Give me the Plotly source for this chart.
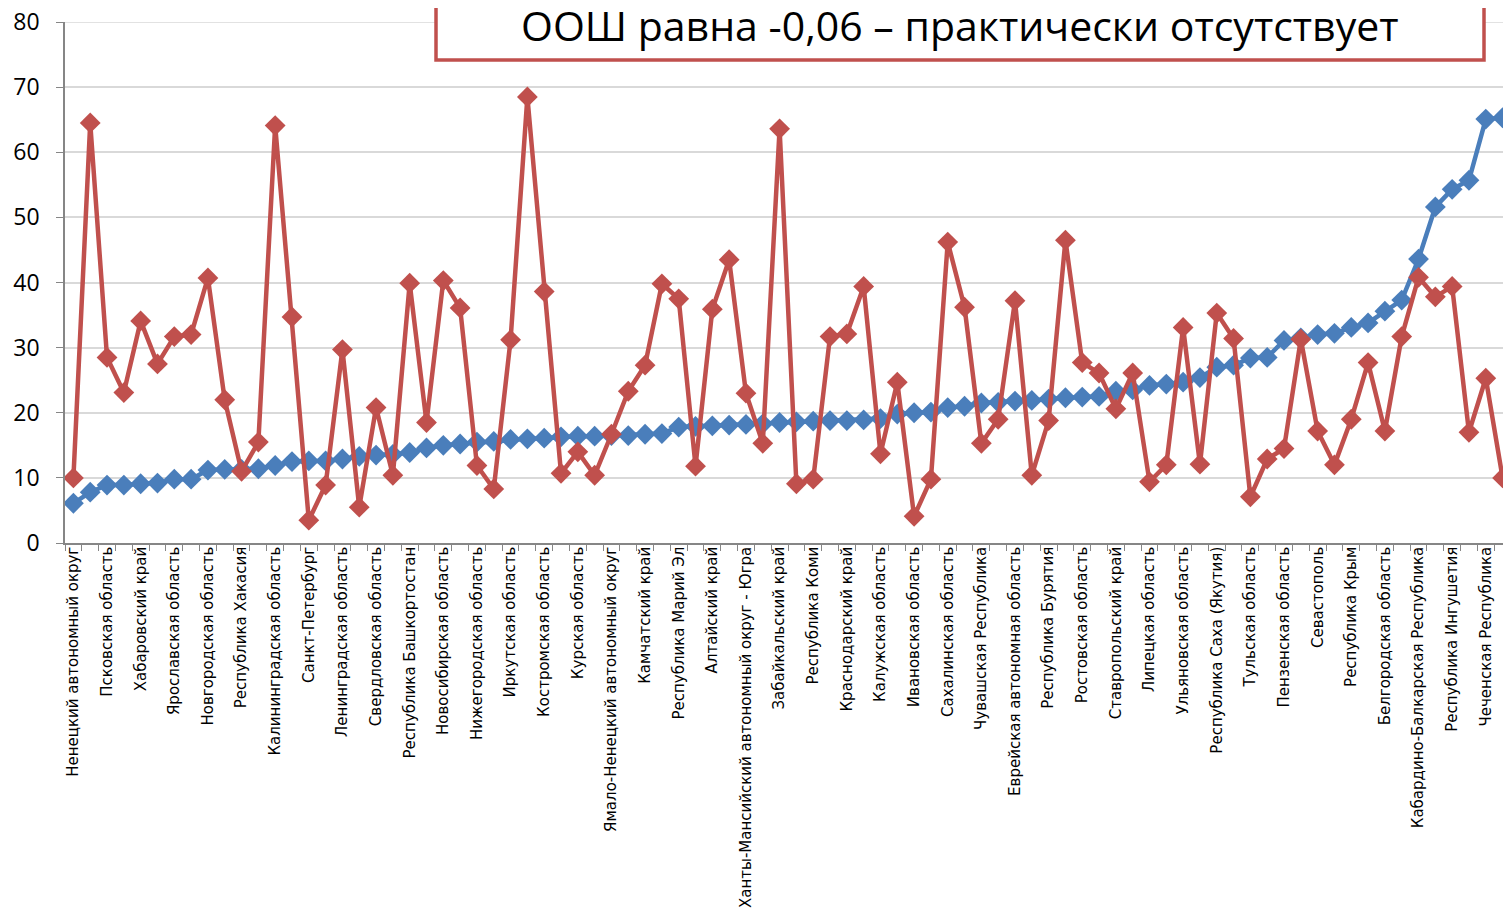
import plotly.graph_objects as go

regions = [
    "Ненецкий автономный округ", "Псковская область", "Хабаровский край",
    "Ярославская область", "Новгородская область", "Республика Хакасия",
    "Калининградская область", "Санкт-Петербург", "Ленинградская область",
    "Свердловская область", "Республика Башкортостан", "Новосибирская область",
    "Нижегородская область", "Иркутская область", "Костромская область",
    "Курская область", "Ямало-Ненецкий автономный округ", "Камчатский край",
    "Республика Марий Эл", "Алтайский край",
    "Ханты-Мансийский автономный округ - Югра", "Забайкальский край",
    "Республика Коми", "Краснодарский край", "Калужская область",
    "Ивановская область", "Сахалинская область", "Чувашская Республика",
    "Еврейская автономная область", "Республика Бурятия", "Ростовская область",
    "Ставропольский край", "Липецкая область", "Ульяновская область",
    "Республика Саха (Якутия)", "Тульская область", "Пензенская область",
    "Севастополь", "Республика Крым", "Белгородская область",
    "Кабардино-Балкарская Республика", "Республика Ингушетия",
    "Чеченская Республика",
]

blue = [6.1, 7.8, 8.9, 8.9, 9.1, 9.2, 9.8, 9.8, 11.2, 11.3, 11.3, 11.4, 11.9,
        12.5, 12.6, 12.6, 12.9, 13.3, 13.5, 13.6, 13.9, 14.6, 15.0, 15.2, 15.5,
        15.6, 15.9, 16.0, 16.1, 16.3, 16.4, 16.4, 16.5, 16.5, 16.7, 16.8, 17.8,
        17.9, 18.0, 18.1, 18.2, 18.3, 18.5, 18.6, 18.7, 18.8, 18.8, 18.9, 19.1,
        19.8, 20.0, 20.1, 20.8, 21.0, 21.5, 21.6, 21.8, 21.9, 22.1, 22.3, 22.4,
        22.5, 23.3, 23.5, 24.2, 24.4, 24.7, 25.4, 27.0, 27.3, 28.4, 28.5, 31.1,
        31.5, 32.0, 32.2, 33.1, 33.8, 35.6, 37.3, 43.6, 51.6, 54.3, 55.7, 65.1,
        65.3]

red = [10.0, 64.5, 28.5, 23.1, 34.1, 27.5, 31.7, 32.0, 40.7, 22.0, 11.0, 15.5,
       64.1, 34.7, 3.5, 8.9, 29.7, 5.5, 20.8, 10.4, 39.9, 18.5, 40.3, 36.1,
       11.9, 8.3, 31.2, 68.5, 38.6, 10.7, 14.0, 10.4, 16.7, 23.3, 27.3, 39.8,
       37.5, 11.8, 35.9, 43.5, 23.0, 15.3, 63.6, 9.1, 9.8, 31.7, 32.1, 39.4,
       13.7, 24.7, 4.1, 9.8, 46.2, 36.2, 15.3, 19.0, 37.2, 10.4, 18.8, 46.5,
       27.7, 26.1, 20.6, 26.1, 9.4, 12.0, 33.1, 12.1, 35.3, 31.4, 7.1, 12.9,
       14.5, 31.3, 17.2, 12.0, 19.0, 27.7, 17.2, 31.7, 40.8, 37.8, 39.4, 17.0,
       25.3, 10.0]

y_ticks = [0, 10, 20, 30, 40, 50, 60, 70, 80]

title_text = "ООШ равна -0,06 – практически отсутствует"

x = list(range(len(blue)))
tickvals = [2 * i for i in range(len(regions))]

BLUE = "#4a7ebb"
RED = "#c0504d"
GRID = "#d9d9d9"
AXIS = "#868686"

# page body has an 8px margin; figure is placed at (8, 8)
W, H = 1503, 909
ML, MT, MB, MR = 57, 14, 374, 0
PW = W - ML - MR
PH = H - MT - MB

def px(xpage):
    return (xpage - 8 - ML) / PW

def py(ypage):
    return (H - MB - (ypage - 8)) / PH

fig = go.Figure()
fig.add_trace(go.Scatter(
    x=x, y=blue, mode="lines+markers",
    line=dict(color=BLUE, width=4.5),
    marker=dict(symbol="diamond", size=16, color=BLUE),
    showlegend=False, cliponaxis=False,
))
fig.add_trace(go.Scatter(
    x=x, y=red, mode="lines+markers",
    line=dict(color=RED, width=4.5),
    marker=dict(symbol="diamond", size=16, color=RED),
    showlegend=False, cliponaxis=False,
))

fig.update_layout(
    width=W, height=H,
    margin=dict(l=ML, r=MR, t=MT, b=MB, pad=0, autoexpand=False),
    paper_bgcolor="white", plot_bgcolor="white",
    xaxis=dict(
        range=[-0.5, len(blue) - 0.5], automargin=False,
        tickmode="array", tickvals=tickvals, ticktext=regions,
        tickangle=-90, ticks="", showgrid=False,
        ticklabelstandoff=-4, ticklabeloverflow="allow",
        tickfont=dict(family="DejaVu Sans", size=15, color="black"),
        showline=True, linecolor=AXIS, linewidth=1.5,
        minor=dict(tickmode="array", tickvals=[i + 0.5 for i in range(-1, len(blue))],
                   ticks="outside", ticklen=6, tickcolor=AXIS, tickwidth=1.2,
                   showgrid=False),
        zeroline=False,
    ),
    yaxis=dict(
        range=[0, 80], automargin=False,
        tickmode="array", tickvals=y_ticks,
        ticks="outside", ticklen=7, tickcolor=AXIS, tickwidth=1.2,
        ticklabelstandoff=12, ticklabeloverflow="allow",
        showline=True, linecolor=AXIS, linewidth=1.5,
        gridcolor=GRID, gridwidth=1.5,
        tickfont=dict(family="Open Sans", size=23, color="black"),
        zeroline=False,
    ),
)

# top gridline (at the range end)
fig.add_shape(type="line", xref="paper", yref="y", x0=0, x1=1,
              y0=y_ticks[-1], y1=y_ticks[-1],
              line=dict(color=GRID, width=1.5), layer="below")

# Title box (its top edge runs above the visible area)
fig.add_shape(type="rect", xref="paper", yref="paper",
              x0=px(436), x1=px(1484), y0=py(60), y1=py(-20),
              line=dict(color=RED, width=3.5), fillcolor="white", layer="above")
fig.add_annotation(xref="paper", yref="paper",
                   x=px(960), y=py(25),
                   text=title_text, showarrow=False,
                   font=dict(family="Open Sans", size=41, color="black"),
                   xanchor="center", yanchor="middle")

fig.write_html("out.html")
